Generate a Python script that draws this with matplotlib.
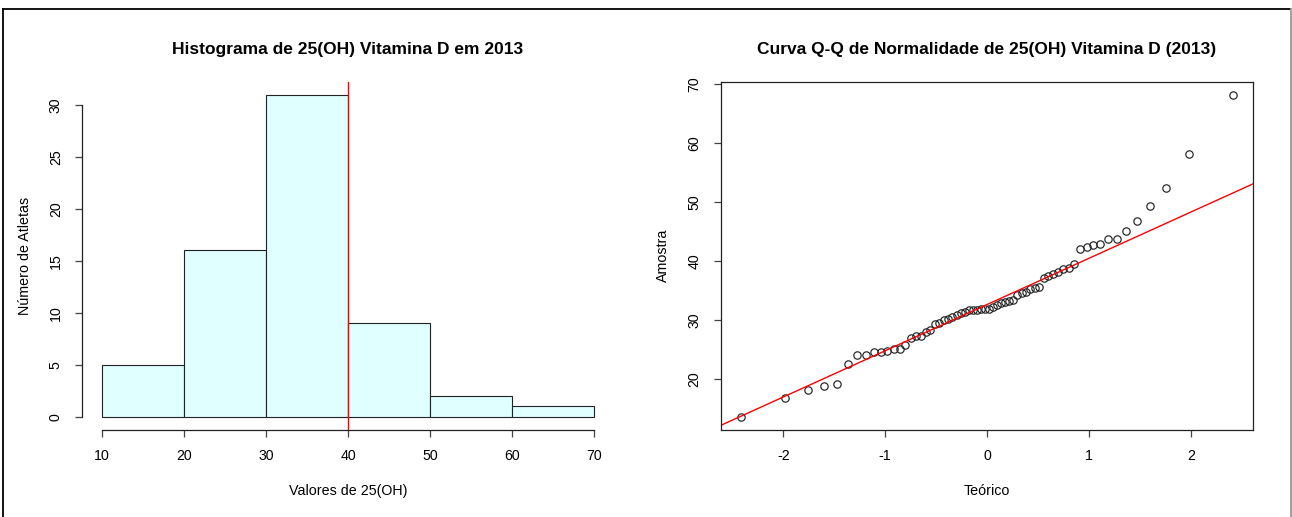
import matplotlib
matplotlib.use("Agg")
import matplotlib.pyplot as plt
import numpy as np
from statistics import NormalDist
from matplotlib.lines import Line2D

plt.rcParams['font.family'] = ['Liberation Sans', 'DejaVu Sans']

# 25(OH) Vitamina D values (sorted)
vitd = [13.7, 16.8, 18.2, 18.9, 19.3,
        22.7, 24.2, 24.2, 24.7, 24.7, 24.9, 25.1, 25.2, 25.8, 27.1, 27.4, 27.4, 28.0, 28.3, 29.4, 29.6,
        30.1, 30.3, 30.6, 30.9, 31.2, 31.5, 31.7, 31.8, 31.8, 31.9, 31.9, 32.0, 32.2, 32.6, 33.0, 33.1,
        33.2, 33.4, 34.3, 34.6, 34.8, 35.3, 35.5, 35.6, 37.1, 37.5, 37.9, 38.1, 38.7, 38.8, 39.5,
        42.0, 42.4, 42.7, 43.0, 43.8, 43.8, 45.2, 46.8, 49.3,
        52.4, 58.1, 68.2]
bin_edges = [10, 20, 30, 40, 50, 60, 70]
ref_line = 40
hist_yticks = [0, 5, 10, 15, 20, 25, 30]
qq_xticks = [-2, -1, 0, 1, 2]
qq_yticks = [20, 30, 40, 50, 60, 70]

W, H = 1292, 517
fig = plt.figure(figsize=(W / 100, H / 100), dpi=100)

def px_axes(x0, y0, x1, y1):
    return fig.add_axes([x0 / W, 1 - y1 / H, (x1 - x0) / W, (y1 - y0) / H])

# ---------- Histogram ----------
ax1 = px_axes(82.3, 81.7, 613.7, 429.6)
ax1.hist(vitd, bins=bin_edges, color='#E0FFFF', edgecolor='#222222', linewidth=0.8)
ax1.axvline(ref_line, color='red', linewidth=1)
ax1.set_xlim(7.6, 72.4)
ax1.set_ylim(-1.24, 32.24)
ax1.set_xticks(bin_edges)
ax1.set_yticks(hist_yticks)
for s in ['top', 'right']:
    ax1.spines[s].set_visible(False)
ax1.spines['left'].set_bounds(0, 30)
ax1.spines['bottom'].set_bounds(10, 70)
ax1.set_title('Histograma de 25(OH) Vitamina D em 2013', fontsize=12.5, fontweight='bold', pad=20)
ax1.set_xlabel('Valores de 25(OH)', fontsize=10.3)
ax1.set_ylabel('Número de Atletas', fontsize=10.3)

# ---------- Q-Q plot ----------
n = len(vitd)
nd = NormalDist()
theo = [nd.inv_cdf((i - 0.5) / n) for i in range(1, n + 1)]
ax2 = px_axes(721, 81.7, 1253, 429.6)
ax2.plot(theo, sorted(vitd), linestyle='none', marker='o', markersize=5.3,
         markerfacecolor='none', markeredgecolor='#222222', markeredgewidth=0.85)
q1, q3 = np.quantile(vitd, [0.25, 0.75])
t1, t3 = nd.inv_cdf(0.25), nd.inv_cdf(0.75)
slope = (q3 - q1) / (t3 - t1)
icpt = q1 - slope * t1
ax2.axline((0, icpt), slope=slope, color='red', linewidth=1)
tr = max(theo) - min(theo)
ax2.set_xlim(min(theo) - 0.04 * tr, max(theo) + 0.04 * tr)
yr = max(vitd) - min(vitd)
ax2.set_ylim(min(vitd) - 0.04 * yr, max(vitd) + 0.04 * yr)
ax2.set_xticks(qq_xticks)
ax2.set_xticklabels(['-2', '-1', '0', '1', '2'])
ax2.set_yticks(qq_yticks)
ax2.set_title('Curva Q-Q de Normalidade de 25(OH) Vitamina D (2013)', fontsize=12.5, fontweight='bold', pad=20)
ax2.set_xlabel('Teórico', fontsize=10.3)
ax2.set_ylabel('Amostra', fontsize=10.3)

for ax in (ax1, ax2):
    for s in ax.spines.values():
        s.set_linewidth(0.9)
        s.set_color('#222222')
    ax.tick_params(axis='both', length=5, width=0.9, color='#444444', labelsize=10.2, pad=9)
    ax.tick_params(axis='y', labelrotation=90)
    for lab in ax.get_yticklabels():
        lab.set_va('center')
    ax.xaxis.set_label_coords(0.5, -0.155)
    ax.yaxis.set_label_coords(-0.095, 0.5)

# outer screenshot frame
fig.add_artist(Line2D([3 / W, 1290 / W], [1 - 8.5 / H, 1 - 8.5 / H], color='black', lw=1.3, transform=fig.transFigure))
fig.add_artist(Line2D([3 / W, 3 / W], [0, 1 - 8.5 / H], color='black', lw=1.3, transform=fig.transFigure))
fig.add_artist(Line2D([1290.5 / W, 1290.5 / W], [0, 1 - 8.5 / H], color='#999999', lw=1.3, transform=fig.transFigure))

fig.savefig('out.png', dpi=100)
